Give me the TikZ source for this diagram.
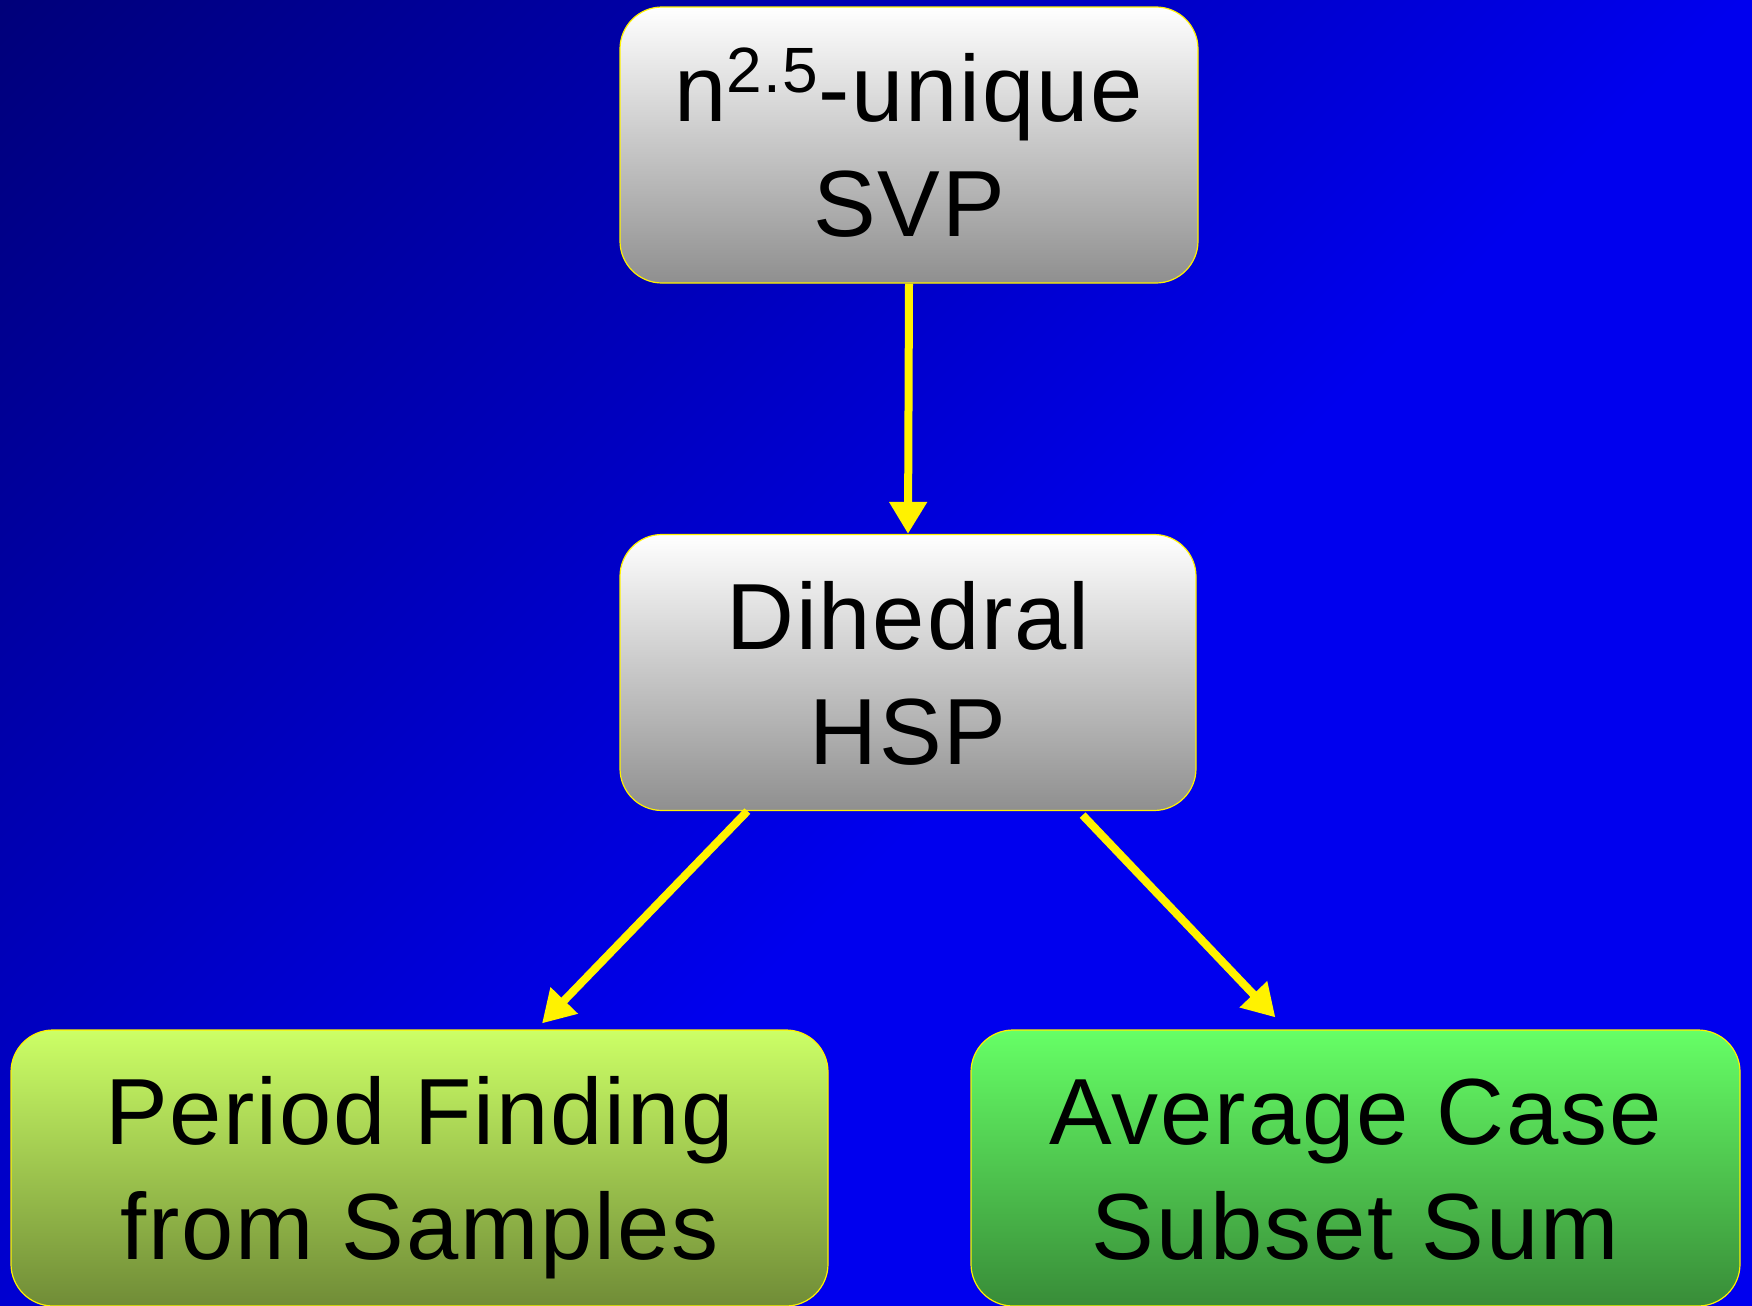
\documentclass[tikz,border=0pt]{standalone}
\usepackage{fontspec}
\setmainfont{Liberation Sans}[LetterSpace=2]
\usetikzlibrary{arrows.meta,calc}
\definecolor{bgdark}{RGB}{0,0,80}
\definecolor{bgblue}{RGB}{0,0,238}
\definecolor{graybot}{RGB}{143,143,143}
\definecolor{limetop}{RGB}{204,255,102}
\definecolor{limebot}{RGB}{112,140,55}
\definecolor{greentop}{RGB}{102,255,102}
\definecolor{greenbot}{RGB}{56,140,56}
\pgfdeclareverticalshading{bgshade}{100bp}{color(0bp)=(bgblue); color(45bp)=(bgblue); color(100bp)=(bgdark)}
\newcommand\lstrut{\rule[-10pt]{0pt}{54pt}}
\tikzset{
  box/.style={draw=yellow, line width=0.6pt, rounded corners=21pt, align=center,
    inner sep=0pt, minimum height=138pt, text=black,
    font=\fontsize{47}{57.5}\selectfont},
  graybox/.style={box, top color=white, bottom color=graybot},
  limebox/.style={box, top color=limetop, bottom color=limebot},
  greenbox/.style={box, top color=greentop, bottom color=greenbot},
  link/.style={draw=yellow, line width=4pt, -{Triangle[length=16pt,width=18pt]}}
}
\begin{document}
\begin{tikzpicture}[x=0.5pt,y=-0.5pt]
\useasboundingbox (0,0) rectangle (1752,1306);
\shade[shading=bgshade, shading angle=45] (0,0) rectangle (1752,1306);
\node[graybox, minimum width=289pt] (svp) at (909,145)
  {\lstrut n\raisebox{14.5pt}{\fontsize{32}{32}\selectfont 2.5}-unique\\\lstrut SVP};
\node[graybox, minimum width=288pt] (hsp) at (908,672.5)
  {\lstrut Dihedral\\\lstrut HSP};
\node[limebox, minimum width=408.5pt] (pf) at (419.5,1168)
  {\lstrut Period Finding\\\lstrut from Samples};
\node[greenbox, minimum width=384.5pt] (ss) at (1355.5,1168)
  {\lstrut Average Case\\\lstrut Subset Sum};
\coordinate (l0) at ($(hsp.south west)+(128,0)$);
\coordinate (l1) at ($(pf.north)+(122.5,-6)$);
\coordinate (r0) at ($(hsp.south east)+(-114,4)$);
\coordinate (r1) at ($(ss.north west)+(305,-12)$);
\draw[link] (svp.south) -- (hsp.north);
\draw[link] (l0) -- (l1);
\draw[link] (r0) -- (r1);
\end{tikzpicture}
\end{document}
